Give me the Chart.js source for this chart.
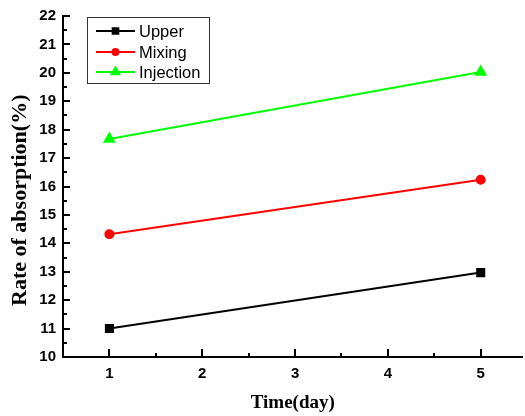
<!DOCTYPE html>
<html>
<head>
<meta charset="utf-8">
<script src="https://cdn.jsdelivr.net/npm/chart.js@4/dist/chart.umd.min.js"></script>
<style>
  html, body { margin: 0; padding: 0; background: #fff; overflow: hidden; }
  #wrap { width: 530px; height: 416px; }
</style>
</head>
<body>
<div id="wrap"><canvas id="absorption_chart"></canvas></div>
<script>
var days = [1, 5];
var upper = [11.0, 12.97];
var mixing = [14.32, 16.24];
var injection = [17.67, 20.03];
var seriesNames = ["Upper", "Mixing", "Injection"];

function toPoints(vals) {
    return vals.map(function (v, i) { return { x: days[i], y: v }; });
}

// ticks drawn inward, like the original plot
var innerTicks = {
    id: 'innerTicks',
    afterDraw: function (chart) {
        var ctx = chart.ctx, xs = chart.scales.x, ys = chart.scales.y;
        var area = chart.chartArea;
        ctx.save();
        ctx.strokeStyle = '#000';
        ctx.lineWidth = 2;
        for (var v = 10; v <= 22; v += 0.5) {
            var py = Math.round(ys.getPixelForValue(v));
            var len = (v % 1 === 0) ? 7 : 4;
            ctx.beginPath();
            ctx.moveTo(area.left, py);
            ctx.lineTo(area.left + len, py);
            ctx.stroke();
        }
        for (var d = 1; d <= 5; d += 0.5) {
            var px = Math.round(xs.getPixelForValue(d));
            var l2 = (d % 1 === 0) ? 8 : 4;
            ctx.beginPath();
            ctx.moveTo(px, area.bottom);
            ctx.lineTo(px, area.bottom - l2);
            ctx.stroke();
        }
        ctx.restore();
    }
};

// legend box sitting inside the plot, top left
var boxLegend = {
    id: 'boxLegend',
    afterDraw: function (chart) {
        var ctx = chart.ctx;
        ctx.save();
        ctx.strokeStyle = '#333';
        ctx.lineWidth = 1;
        ctx.strokeRect(87.5, 17.5, 122, 66);
        ctx.font = '16.5px "Liberation Sans", Arial, sans-serif';
        ctx.textBaseline = 'middle';
        var rows = [31, 52, 72];
        chart.data.datasets.forEach(function (ds, i) {
            var y = rows[i];
            ctx.strokeStyle = ds.borderColor;
            ctx.lineWidth = 2;
            ctx.beginPath();
            ctx.moveTo(96, y);
            ctx.lineTo(135, y);
            ctx.stroke();
            ctx.fillStyle = ds.backgroundColor;
            ctx.strokeStyle = ds.borderColor;
            Chart.helpers.drawPoint(ctx, {
                pointStyle: ds.pointStyle,
                radius: ds.pointRadius - 1,
                rotation: 0,
                borderWidth: 1
            }, 115.5, y);
            ctx.fillStyle = '#000';
            ctx.fillText(ds.label, 139, y + 1);
        });
        ctx.restore();
    }
};

var ctxEl = document.getElementById('absorption_chart');
var myChart = new Chart(ctxEl, {
    type: 'line',
    data: {
        datasets: [
            { label: seriesNames[0], data: toPoints(upper), borderColor: '#000000', backgroundColor: '#000000',
              pointStyle: 'rect', pointRadius: 5, borderWidth: 2 },
            { label: seriesNames[1], data: toPoints(mixing), borderColor: '#ff0000', backgroundColor: '#ff0000',
              pointStyle: 'circle', pointRadius: 4, borderWidth: 2 },
            { label: seriesNames[2], data: toPoints(injection), borderColor: '#00ff00', backgroundColor: '#00ff00',
              pointStyle: 'triangle', pointRadius: 5.5, borderWidth: 2 }
        ]
    },
    options: {
        responsive: true,
        maintainAspectRatio: false,
        animation: false,
        layout: { padding: { top: 15, right: 0, left: 0, bottom: 0 } },
        plugins: { legend: { display: false }, tooltip: { enabled: false } },
        scales: {
            x: {
                type: 'linear',
                min: 0.5,
                max: 5.45,
                afterFit: function (s) { s.height = 59; },
                afterBuildTicks: function (s) { s.ticks = [1, 2, 3, 4, 5].map(function (v) { return { value: v }; }); },
                grid: { drawOnChartArea: false, drawTicks: true, tickLength: 8, tickColor: 'rgba(0,0,0,0)' },
                border: { color: '#000', width: 2 },
                ticks: { color: '#000', padding: 0, font: { family: '"Liberation Sans", Arial', size: 15, weight: 'bold' } },
                title: { display: true, text: 'Time(day)', color: '#000', padding: { top: 0, bottom: 2 },
                         font: { family: '"Liberation Serif", "Times New Roman", serif', size: 19, weight: 'bold' } }
            },
            y: {
                min: 10,
                max: 22,
                afterFit: function (s) { s.width = 63; },
                grid: { drawOnChartArea: false, drawTicks: false },
                border: { color: '#000', width: 2 },
                ticks: { stepSize: 1, color: '#000', padding: 7, font: { family: '"Liberation Sans", Arial', size: 15, weight: 'bold' } },
                title: { display: true, text: 'Rate of absorption(%)     ', color: '#000', padding: { top: 7, bottom: 0 },
                         font: { family: '"Liberation Serif", "Times New Roman", serif', size: 22, weight: 'bold' } }
            }
        }
    },
    plugins: [innerTicks, boxLegend]
});
</script>
</body>
</html>
